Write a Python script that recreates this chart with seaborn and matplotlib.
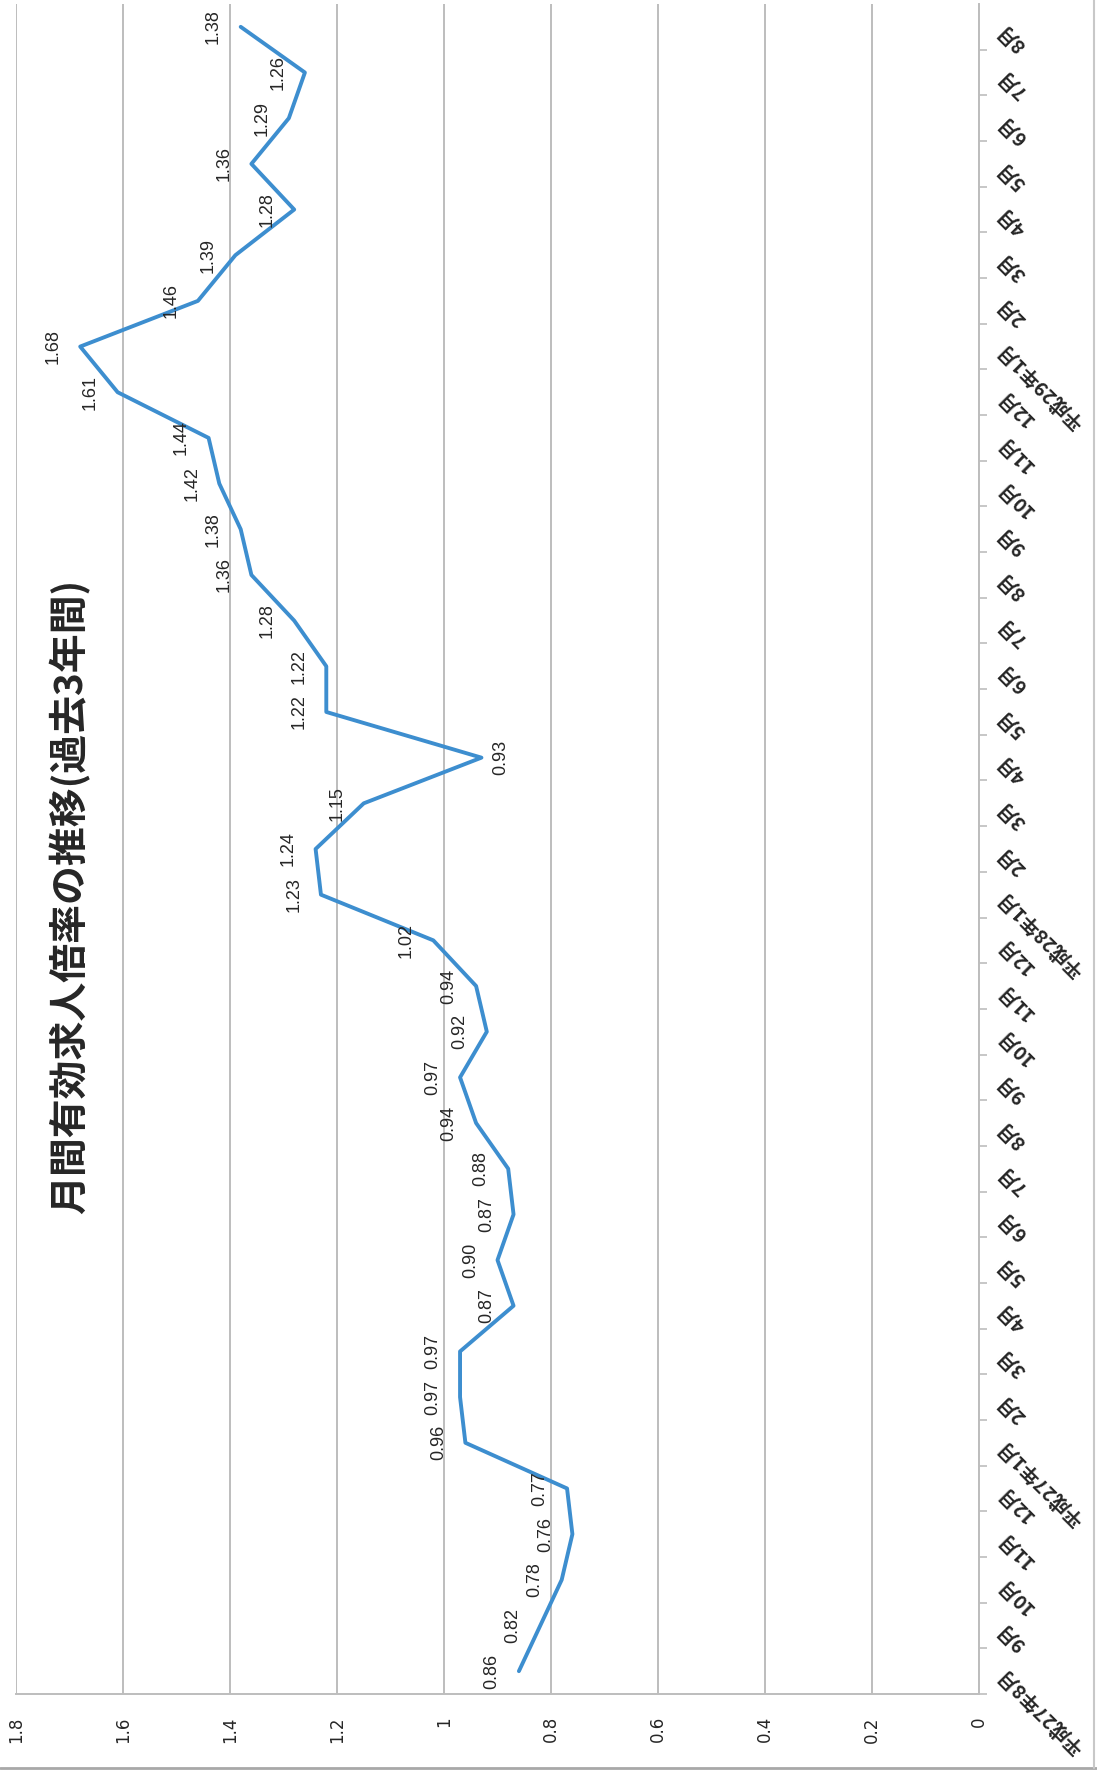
import seaborn as sns
import matplotlib.pyplot as plt
from matplotlib.lines import Line2D

# 月別 有効求人倍率 (scan is rotated 90deg, so months run bottom -> top)
months = ["平成27年8月", "9月", "10月", "11月", "12月",
          "平成27年1月", "2月", "3月", "4月", "5月", "6月", "7月", "8月", "9月", "10月", "11月", "12月",
          "平成28年1月", "2月", "3月", "4月", "5月", "6月", "7月", "8月", "9月", "10月", "11月", "12月",
          "平成29年1月", "2月", "3月", "4月", "5月", "6月", "7月", "8月"]
ratio = [0.86, 0.82, 0.78, 0.76, 0.77,
         0.96, 0.97, 0.97, 0.87, 0.90, 0.87, 0.88, 0.94, 0.97, 0.92, 0.94, 1.02,
         1.23, 1.24, 1.15, 0.93, 1.22, 1.22, 1.28, 1.36, 1.38, 1.42, 1.44, 1.61,
         1.68, 1.46, 1.39, 1.28, 1.36, 1.29, 1.26, 1.38]
value_ticks = [0, 0.2, 0.4, 0.6, 0.8, 1.0, 1.2, 1.4, 1.6, 1.8]
value_tick_labels = ["0", "0.2", "0.4", "0.6", "0.8", "1", "1.2", "1.4", "1.6", "1.8"]
title = "月間有効求人倍率の推移(過去3年間)"

sns.set_style("white")
plt.rcParams["font.family"] = ["Noto Sans CJK JP", "DejaVu Sans"]

W, H = 1097, 1773
fig = plt.figure(figsize=(W / 100, H / 100), dpi=100)
ax = fig.add_axes([16 / W, 1 - 1694 / H, (979 - 16) / W, (1694 - 4) / H])

idx = list(range(len(months)))
sns.lineplot(x=ratio, y=idx, orient="y", estimator=None, ax=ax,
             color="#3d8ecf", linewidth=2.8)

ax.set_xlim(1.8, 0)
ax.set_ylim(-0.5, len(months) - 0.5)

grid_c = "#bdbdbd"
ax.set_xticks(value_ticks, labels=value_tick_labels, rotation=90,
              fontsize=12, family="DejaVu Sans")
ax.xaxis.grid(True, color=grid_c, linewidth=1.4)
ax.yaxis.grid(False)
ax.tick_params(axis="x", direction="out", length=6, width=1.2, color=grid_c, pad=10)

ax.yaxis.tick_right()
ax.set_yticks(idx)
ax.set_yticklabels(months, rotation=135, ha="right", va="center",
                   rotation_mode="anchor", fontsize=14, fontweight="bold")
ax.set_yticks([i + 0.5 for i in idx[:-1]] + [-0.5], minor=True)
ax.tick_params(axis="y", which="major", length=0, pad=16)
ax.tick_params(axis="y", which="minor", direction="out", length=6, width=1.2, color=grid_c)

for side in ["top", "left"]:
    ax.spines[side].set_visible(False)
for side in ["right", "bottom"]:
    ax.spines[side].set_color(grid_c)
    ax.spines[side].set_linewidth(1.4)

# data labels ("above" the points in the unrotated chart)
for i, v in zip(idx, ratio):
    dx = 14 if i == 20 else -19.5
    ax.annotate(f"{v:.2f}", xy=(v, i), xytext=(dx, 0), textcoords="offset points",
                rotation=90, ha="center", va="center", fontsize=13,
                family="Liberation Sans")

fig.text(70 / W, 1 - 896 / H, title, rotation=90, ha="center", va="center",
         fontsize=28, fontweight="bold")

# outer chart frame of the scan
fig.add_artist(Line2D([0, 1], [1 - 1768 / H] * 2, color="#a8a8a8", linewidth=2))
fig.add_artist(Line2D([1094 / W] * 2, [1 - 1768 / H, 1], color="#c8c8c8", linewidth=1.5))

fig.savefig("out.png", dpi=100)
